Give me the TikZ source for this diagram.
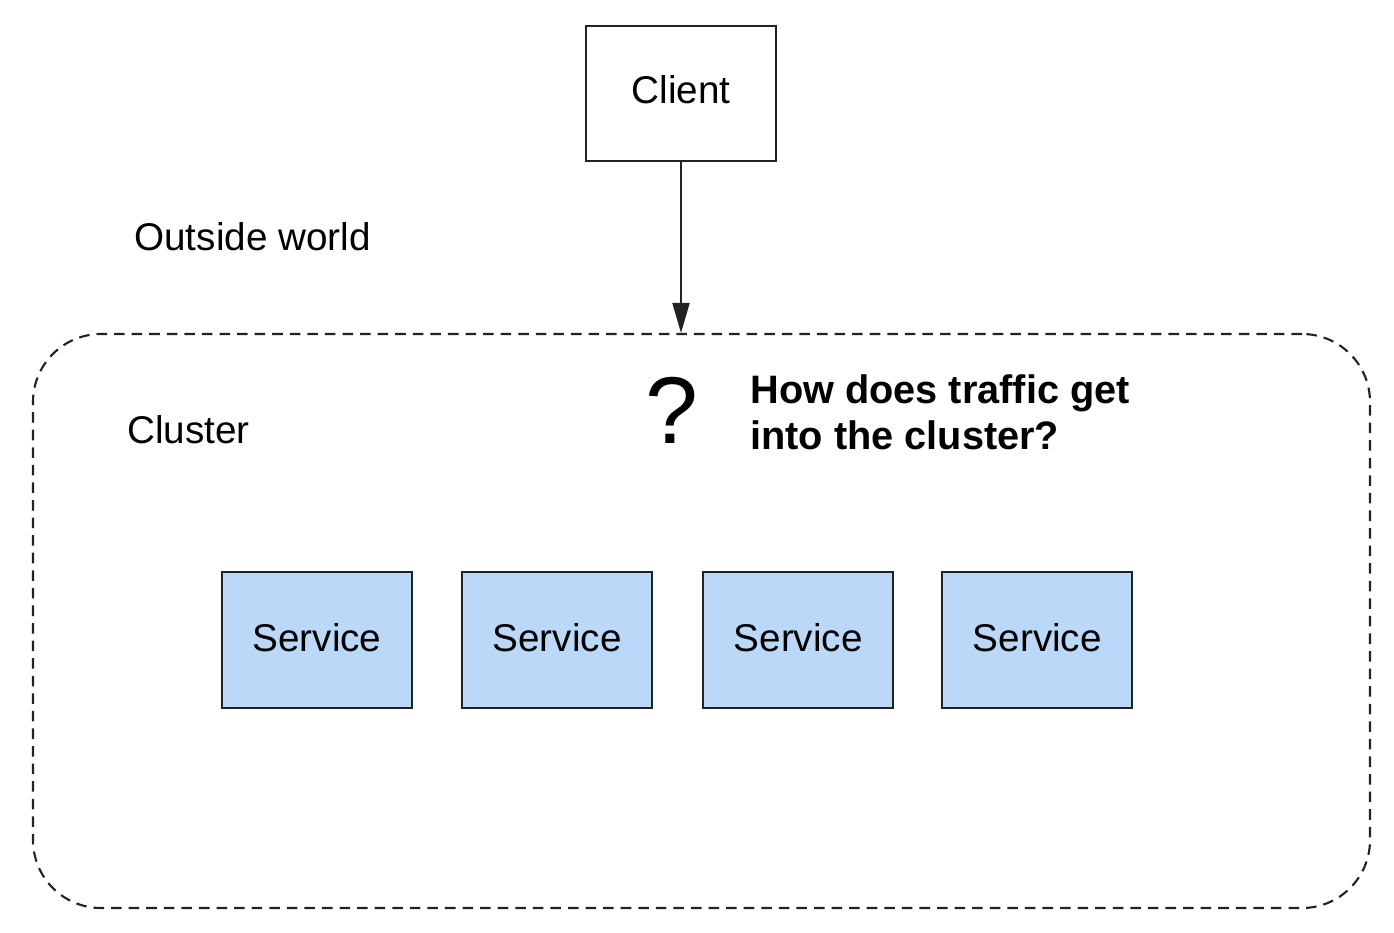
\documentclass[tikz,border=0pt]{standalone}
\usepackage{fontspec}
\setmainfont{Liberation Sans}
\usepackage{xcolor}
\usetikzlibrary{positioning,arrows.meta}
\definecolor{svcblue}{RGB}{187,216,249}
\definecolor{inkdark}{RGB}{34,34,34}
\tikzset{%
box/.style={draw=inkdark,line width=1.2pt,rectangle,minimum width=3.8cm,minimum height=2.7cm,inner sep=0pt,text depth=0.17cm,font=\fontsize{22}{26}\selectfont},
service/.style={box,fill=svcblue,minimum height=2.72cm,text depth=0.12cm},
region/.style={draw=inkdark,line width=1.2pt,dash pattern=on 6pt off 4pt,rounded corners=1.36cm,minimum width=26.74cm,minimum height=11.48cm},
plainlabel/.style={anchor=west,inner sep=0pt,font=\fontsize{22}{26}\selectfont},
flow/.style={draw=inkdark,line width=1.1pt,-{Triangle[length=0.6cm,width=0.34cm]}}
}

\begin{document}
\begin{tikzpicture}
    \useasboundingbox (0,0) rectangle (27.88,-18.64);

    \node[box] (client) at (13.62,-1.87) {Client};
    \node[region] (cluster) at (14.03,-12.42) {};

    \node[plainlabel] (outside) at (2.68,-4.74) {Outside world};
    \node[plainlabel] (clusterlbl) at (2.54,-8.6) {Cluster};

    \node[inner sep=0pt,font=\fontsize{54}{60}\selectfont] (ask) at (13.44,-8.2) {?};
    \node[plainlabel,align=left,font=\fontsize{22.6}{26}\selectfont\bfseries] (question) at (15.0,-8.25)
        {How does traffic get\\into the cluster?};

    \node[service] (s1) at (6.34,-12.8) {Service};
    \node[service] (s2) [right=0.96cm of s1] {Service};
    \node[service] (s3) [right=0.98cm of s2] {Service};
    \node[service] (s4) [right=0.94cm of s3] {Service};

    \path[flow] (client.south) -- (client.south |- cluster.north);
\end{tikzpicture}
\end{document}
